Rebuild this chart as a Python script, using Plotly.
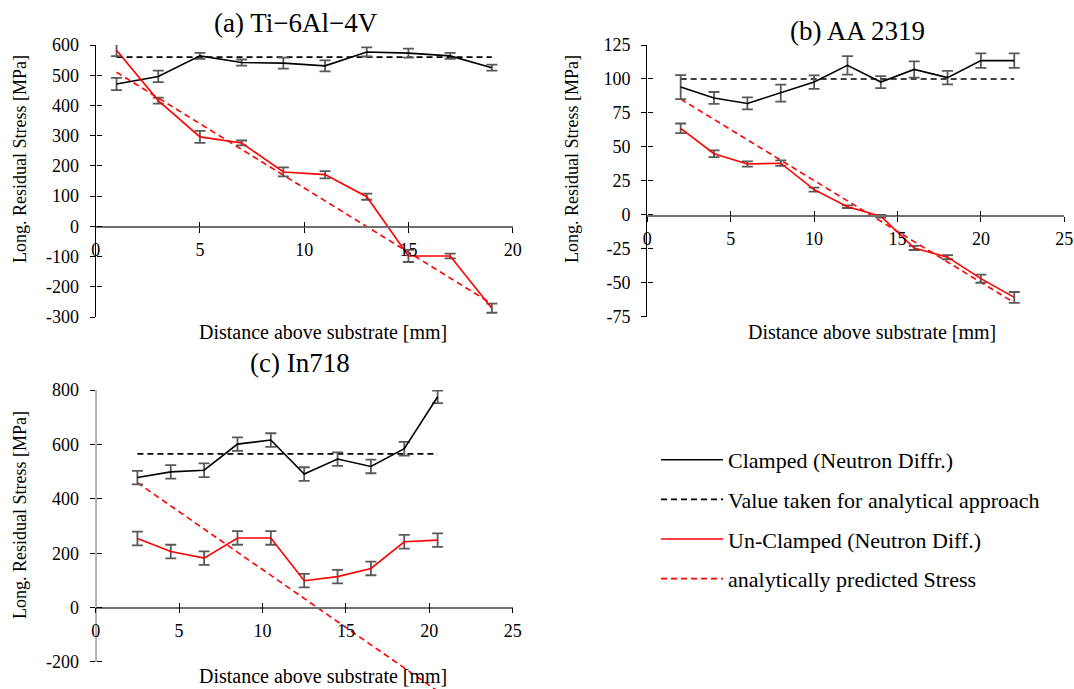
import plotly.graph_objects as go

# ---------------- data ----------------
# (a) Ti-6Al-4V
a_x = [1, 3, 5, 7, 9, 11, 13, 15, 17, 19]
a_clamped = [471, 496, 564, 542, 540, 531, 577, 573, 564, 525]
a_clamped_err = [20, 19, 10, 10, 18, 18, 15, 15, 10, 10]
a_unclamped = [583, 416, 296, 276, 180, 171, 98, -98, -98, -271]
a_unclamped_err = [20, 10, 20, 8, 15, 12, 10, 20, 8, 15]
a_value_x = [1, 19]
a_value_y = [560, 560]
a_pred_x = [1, 19]
a_pred_y = [510, -256]

# (b) AA 2319
b_x = [2, 4, 6, 8, 10, 12, 14, 16, 18, 20, 22]
b_clamped = [94, 86, 82, 89.6, 97.7, 110, 97.7, 107, 101, 113.5, 113.5]
b_clamped_err = [8.8, 4.4, 4.4, 6.3, 5, 6.8, 4.4, 6, 5, 5.4, 5.4]
b_unclamped = [63.7, 45, 37.4, 38, 18.5, 6, -1, -24.4, -31.2, -47, -60.8]
b_unclamped_err = [3.5, 2.5, 2, 2, 1.5, 1, 1, 1.5, 1.5, 3, 4]
b_value_x = [2, 22]
b_value_y = [100, 100]
b_pred_x = [2, 22]
b_pred_y = [85.2, -64.7]

# (c) In718
c_x = [2.5, 4.5, 6.5, 8.5, 10.5, 12.5, 14.5, 16.5, 18.5, 20.5]
c_clamped = [478, 499, 505, 601, 616, 491, 546, 519, 584, 775]
c_clamped_err = [25, 25, 25, 25, 25, 25, 25, 25, 25, 23]
c_unclamped = [254, 206, 182, 256, 256, 99, 114, 144, 242, 248]
c_unclamped_err = [25, 25, 25, 25, 25, 25, 25, 25, 25, 25]
c_value_x = [2.5, 20.5]
c_value_y = [565, 565]
c_pred_x = [2.5, 20.5]
c_pred_y = [459, -307]

# tick values
a_xticks = [0, 5, 10, 15, 20]
a_yticks = [-300, -200, -100, 0, 100, 200, 300, 400, 500, 600]
b_xticks = [0, 5, 10, 15, 20, 25]
b_yticks = [-75, -50, -25, 0, 25, 50, 75, 100, 125]
c_xticks = [0, 5, 10, 15, 20, 25]
c_yticks = [-200, 0, 200, 400, 600, 800]

titles = ["(a) Ti\u22126Al\u22124V", "(b) AA 2319", "(c) In718"]
legend_names = ["Clamped (Neutron Diffr.)", "Value taken for analytical approach",
                "Un-Clamped (Neutron Diff.)", "analytically predicted Stress"]
x_title = "Distance above substrate [mm]"
y_title = "Long. Residual Stress [MPa]"

# ---------------- layout helpers ----------------
W, H = 1074, 689
FONT = "Liberation Serif"


def fx(px):
    return px / W


def fy(py):
    return 1 - py / H


ERR_COLOR = "#595959"
DASH = "6px,4px"

fig = go.Figure()

panels = [
    dict(x=a_x, cl=a_clamped, cle=a_clamped_err, un=a_unclamped, une=a_unclamped_err,
         vx=a_value_x, vy=a_value_y, px_=a_pred_x, py_=a_pred_y, xa="x", ya="y"),
    dict(x=b_x, cl=b_clamped, cle=b_clamped_err, un=b_unclamped, une=b_unclamped_err,
         vx=b_value_x, vy=b_value_y, px_=b_pred_x, py_=b_pred_y, xa="x2", ya="y2"),
    dict(x=c_x, cl=c_clamped, cle=c_clamped_err, un=c_unclamped, une=c_unclamped_err,
         vx=c_value_x, vy=c_value_y, px_=c_pred_x, py_=c_pred_y, xa="x3", ya="y3"),
]

for i, p in enumerate(panels):
    show = (i == 0)
    fig.add_trace(go.Scatter(
        x=p["vx"], y=p["vy"], mode="lines", name=legend_names[1], legendgroup="g2",
        legendrank=2, showlegend=show, line=dict(color="black", width=1.6, dash=DASH),
        xaxis=p["xa"], yaxis=p["ya"]))
    fig.add_trace(go.Scatter(
        x=p["px_"], y=p["py_"], mode="lines", name=legend_names[3], legendgroup="g4",
        legendrank=4, showlegend=show, line=dict(color="#FF0000", width=1.6, dash=DASH),
        xaxis=p["xa"], yaxis=p["ya"]))
    fig.add_trace(go.Scatter(
        x=p["x"], y=p["cl"], mode="lines", name=legend_names[0], legendgroup="g1",
        legendrank=1, showlegend=show, line=dict(color="black", width=1.6),
        error_y=dict(type="data", array=p["cle"], color=ERR_COLOR, thickness=1.8, width=5.5),
        xaxis=p["xa"], yaxis=p["ya"]))
    fig.add_trace(go.Scatter(
        x=p["x"], y=p["un"], mode="lines", name=legend_names[2], legendgroup="g3",
        legendrank=3, showlegend=show, line=dict(color="#FF0000", width=1.6),
        error_y=dict(type="data", array=p["une"], color=ERR_COLOR, thickness=1.8, width=5.5),
        xaxis=p["xa"], yaxis=p["ya"]))

# invisible traces so overlay (cross-tick) axes get drawn
for k in (4, 5, 6):
    fig.add_trace(go.Scatter(x=[None], y=[None], mode="lines", showlegend=False,
                             hoverinfo="skip", xaxis=f"x{k}", yaxis=f"y{k}"))

tickfont = dict(family=FONT, size=18, color="black")

geo = [
    dict(xd=(95.7, 512.7), yd=(45, 317), xr=[0, 20], yr=[-300, 600], x0=227,
         xt=a_xticks, yt=a_yticks, showyline=True),
    dict(xd=(647.3, 1064.3), yd=(45, 316.7), xr=[0, 25], yr=[-75, 125], x0=215.7,
         xt=b_xticks, yt=b_yticks, showyline=True),
    dict(xd=(95.7, 512.7), yd=(390, 689), xr=[0, 25], yr=[-299.3, 800], x0=607.6,
         xt=c_xticks, yt=c_yticks, showyline=False),
]

layout_axes = {}
for i, g in enumerate(geo):
    n = i + 1
    xn = "xaxis" if n == 1 else f"xaxis{n}"
    yn = "yaxis" if n == 1 else f"yaxis{n}"
    xo = f"xaxis{n + 3}"
    yo = f"yaxis{n + 3}"
    xid = "x" if n == 1 else f"x{n}"
    yid = "y" if n == 1 else f"y{n}"
    xdom = [fx(g["xd"][0]), fx(g["xd"][1])]
    ydom = [max(0, fy(g["yd"][1])), fy(g["yd"][0])]
    common_x = dict(domain=xdom, range=g["xr"], anchor="free", position=fy(g["x0"]),
                    tickvals=g["xt"], showgrid=False, zeroline=False, ticklen=5,
                    tickwidth=1.2, tickcolor="black", automargin=False)
    layout_axes[xn] = dict(**common_x, showline=True, linecolor="#707070", linewidth=1.6,
                           ticks="outside", tickfont=tickfont, ticklabelstandoff=2,
                           ticktext=[str(v) for v in g["xt"]])
    layout_axes[xo] = dict(**common_x, overlaying=xid, showline=False, ticks="inside",
                           showticklabels=False)
    common_y = dict(domain=ydom, range=g["yr"], tickvals=g["yt"], showgrid=False,
                    zeroline=False, ticklen=5, tickwidth=1.2, tickcolor="black",
                    automargin=False)
    layout_axes[yn] = dict(**common_y, anchor=xid, showline=g["showyline"], linecolor="black",
                           linewidth=1.2, ticks="outside", tickfont=tickfont,
                           ticklabelstandoff=7, ticktext=[str(v) for v in g["yt"]])
    layout_axes[yo] = dict(**common_y, overlaying=yid, anchor="free", position=xdom[0],
                           showline=False, ticks="inside", showticklabels=False)

fig.update_layout(**layout_axes)

# y-axis line of panel (c) only spans the labelled range
fig.add_shape(type="line", xref="x3", yref="y3", x0=0, x1=0, y0=c_yticks[0], y1=c_yticks[-1],
              line=dict(color="black", width=1.2))

ann = []
title_pos = [(296.5, 23), (857, 31), (300, 363)]
for t, (px, py) in zip(titles, title_pos):
    ann.append(dict(text=t, x=fx(px), y=fy(py), xref="paper", yref="paper",
                    showarrow=False, xanchor="center", yanchor="middle",
                    font=dict(family=FONT, size=27, color="black")))
for (px, py) in [(322.5, 332), (872, 332), (322.5, 676)]:
    ann.append(dict(text=x_title, x=fx(px), y=fy(py), xref="paper", yref="paper",
                    showarrow=False, xanchor="center", yanchor="middle",
                    font=dict(family=FONT, size=20, color="black")))
for (px, py) in [(20, 159), (572, 159), (20, 515)]:
    ann.append(dict(text=y_title, x=fx(px), y=fy(py), xref="paper", yref="paper",
                    showarrow=False, xanchor="center", yanchor="middle", textangle=-90,
                    font=dict(family=FONT, size=18, color="black")))

fig.update_layout(
    width=W, height=H,
    margin=dict(l=0, r=0, t=0, b=0, autoexpand=False),
    paper_bgcolor="white", plot_bgcolor="white",
    annotations=ann,
    showlegend=True,
    legend=dict(x=fx(656), y=fy(439), xanchor="left", yanchor="top",
                font=dict(family=FONT, size=22, color="black"),
                tracegroupgap=8, itemwidth=62, bgcolor="rgba(0,0,0,0)"),
    font=dict(family=FONT, color="black"),
)

fig.write_html(
    "out.html",
    config={"displayModeBar": False},
    post_script="document.body.style.margin='0';document.body.style.overflow='hidden';",
)
